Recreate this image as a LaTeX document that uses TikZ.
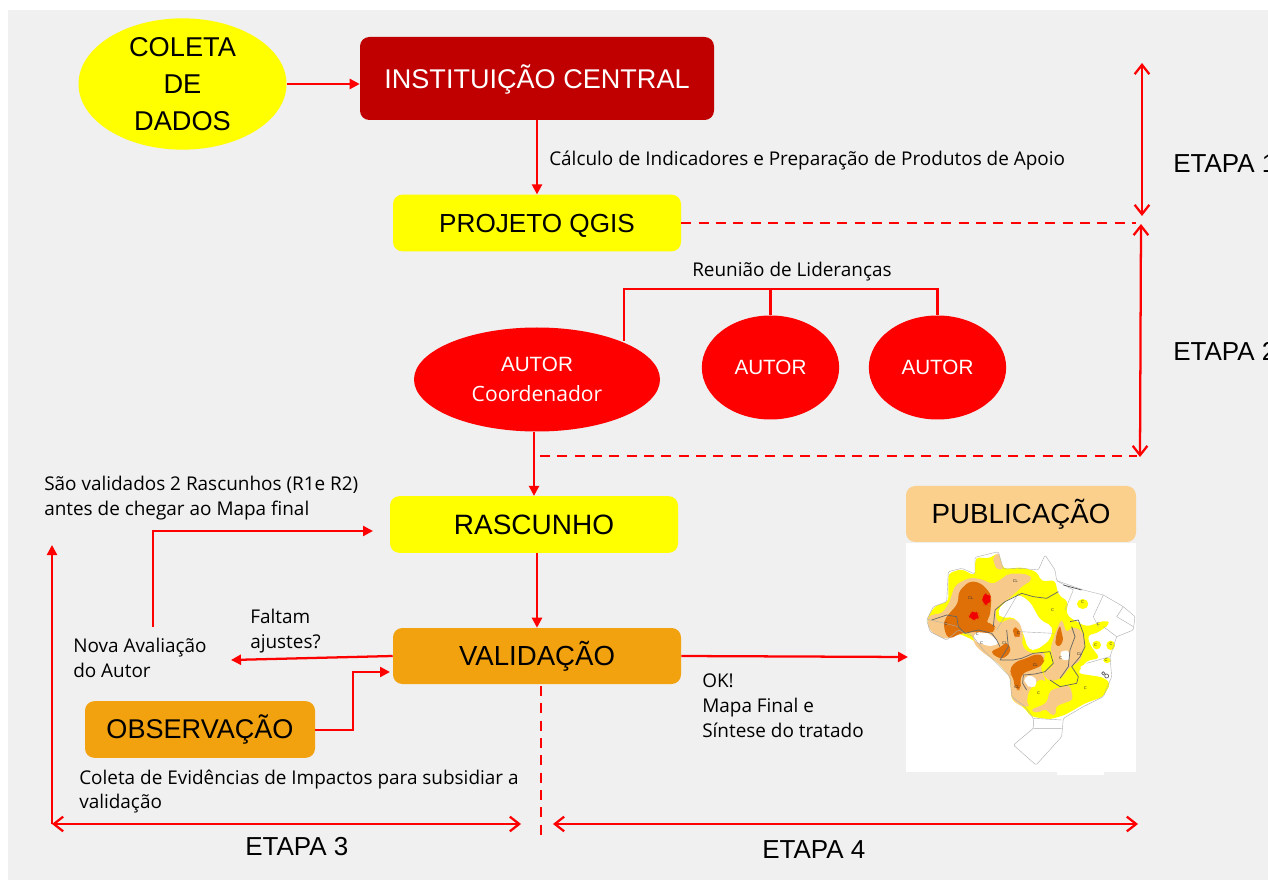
\documentclass[tikz,border=0pt]{standalone}
\usepackage{fontspec}
\setmainfont{Open Sans}
\newfontfamily\capfont{Liberation Sans}
\usetikzlibrary{arrows.meta,shapes.geometric,calc}
\definecolor{bg}{HTML}{F0F0F0}
\definecolor{lnred}{HTML}{FF0000}
\definecolor{darkred}{HTML}{C00000}
\definecolor{amber}{HTML}{F2A20F}
\definecolor{peach}{HTML}{FAD08C}
\definecolor{mtan}{HTML}{F7C98B}
\definecolor{morange}{HTML}{DF7008}
\definecolor{mred}{HTML}{F00000}
\definecolor{yel}{HTML}{FFFF00}
\definecolor{rd}{HTML}{FF0000}
\tikzset{
  boxbase/.style={rounded corners=7pt,inner sep=0pt,anchor=center},
  yellowbox/.style={boxbase,fill=yel,minimum width=216pt,minimum height=42.5pt},
  amberbox/.style={boxbase,fill=amber},
  blob/.style={ellipse,inner sep=0pt,align=center},
  lbl/.style={inner sep=0pt,align=left,anchor=west,font=\fontsize{14.2}{18.7}\selectfont},
  etapa/.style={inner sep=0pt,anchor=west,font=\capfont\fontsize{19.5}{22}\selectfont},
  arr/.style={draw=lnred,line width=1.7pt,-{Triangle[length=7.5pt,width=7.5pt]}},
  dbl/.style={draw=lnred,line width=1.7pt,{Straight Barb[length=7pt,width=11pt]}-{Straight Barb[length=7pt,width=11pt]}},
  plain/.style={draw=lnred,line width=1.7pt},
  dsh/.style={draw=lnred,line width=1.5pt,dash pattern=on 7.5pt off 5.5pt},
  gl/.style={draw=black!32,line width=.3pt},
  kl/.style={draw=black!60,line width=.55pt,line join=round},
  mt/.style={inner sep=0pt,font=\capfont\fontsize{3}{3}\selectfont,text=black!80}
}
\begin{document}
\begin{tikzpicture}[x=0.75pt,y=-0.75pt]
\useasboundingbox (0,0) rectangle (1268,880);
\fill[bg] (8,10) rectangle (1268,880);
% map
\fill[white] (906,543) rectangle (1136,772);
\fill[white] (1057,770) rectangle (1104,775);
\begin{scope}[shift={(890,470)},x=0.25pt,y=-0.25pt]
\fill[yel,rounded corners=3pt] (120,430)--(135,408)--(175,395)--(175,310)--(215,297)--(255,318)--(256,262)--(300,265)--(325,247)--(340,297)--(395,292)--(440,305)--(455,335)--(495,330)--(505,375)--(535,395)--(528,430)--(545,447)--(590,470)--(650,450)--(660,462)--(620,490)--(592,495)--(600,525)--(630,565)--(590,572)--(562,610)--(640,622)--(662,640)--(640,680)--(585,700)--(525,735)--(480,748)--(422,740)--(405,715)--(365,690)--(360,620)--(325,580)--(280,545)--(250,510)--(205,490)--(120,480)--(110,450)--cycle;
\fill[white,rounded corners=4pt] (320,425)--(345,395)--(385,372)--(420,395)--(450,450)--(490,470)--(480,510)--(440,540)--(415,540)--(400,490)--(375,440)--(335,445)--cycle;
\fill[white,rounded corners=3pt] (565,590)--(620,575)--(640,600)--(590,610)--cycle;
\fill[mtan,rounded corners=2pt] (308,265)--(325,247)--(340,300)--(318,296)--cycle;
\fill[mtan,rounded corners=4pt] (110,450)--(125,430)--(150,435)--(175,405)--(195,345)--(240,322)--(285,330)--(305,345)--(345,320)--(355,310)--(415,312)--(430,330)--(400,345)--(375,370)--(345,395)--(320,410)--(315,445)--(335,465)--(350,445)--(385,450)--(400,490)--(395,530)--(420,550)--(470,548)--(450,590)--(470,640)--(425,700)--(405,715)--(365,690)--(360,620)--(325,580)--(275,545)--(250,520)--(250,490)--(205,490)--(170,510)--(120,485)--cycle;
\fill[mtan,rounded corners=3pt] (480,540)--(495,490)--(515,445)--(530,490)--(545,470)--(575,480)--(585,520)--(570,575)--(540,590)--(515,625)--(480,635)--(455,610)--(490,590)--(490,560)--cycle;
\fill[mtan,rounded corners=3pt] (420,720)--(470,700)--(480,660)--(540,645)--(550,690)--(520,700)--(495,710)--(500,735)--(480,735)--(470,715)--(440,730)--cycle;
\fill[yel,rounded corners=3pt] (415,665)--(450,625)--(475,640)--(470,680)--(440,710)--(410,705)--cycle;
\fill[white,rounded corners=3pt] (248,495)--(275,480)--(310,500)--(330,520)--(300,530)--(255,515)--cycle;
\fill[white,rounded corners=4pt] (400,620)--(430,615)--(445,640)--(425,658)--(405,640)--cycle;
\fill[white,rounded corners=2pt] (510,545)--(535,540)--(540,570)--(515,570)--cycle;
\fill[morange,rounded corners=4pt] (165,445)--(205,400)--(205,365)--(240,332)--(275,340)--(305,375)--(300,440)--(285,460)--(310,460)--(320,480)--(300,490)--(255,485)--(210,490)--(175,510)--(160,470)--cycle;
\fill[morange,rounded corners=3pt] (300,545)--(335,530)--(350,515)--(365,540)--(345,565)--(325,565)--cycle;
\fill[morange,rounded corners=3pt] (368,470)--(385,475)--(395,495)--(380,505)--(370,495)--cycle;
\fill[morange,rounded corners=4pt] (375,575)--(410,565)--(440,550)--(465,560)--(460,585)--(425,600)--(395,610)--(390,640)--(395,660)--(375,660)--(370,620)--(355,605)--cycle;
\fill[morange,rounded corners=2pt] (510,465)--(520,510)--(510,530)--(495,525)--(500,490)--cycle;
\fill[mred,rounded corners=4pt] (275,375)--(295,368)--(305,385)--(295,405)--(278,405)--cycle;
\fill[mred,rounded corners=4pt] (235,430)--(255,422)--(270,435)--(262,450)--(240,450)--cycle;
\fill[yel] (578,402) ellipse [x radius=17,y radius=15];
\fill[yel] (620,525) ellipse [x radius=13,y radius=13];
\fill[yel] (662,526) ellipse [x radius=13,y radius=14];
\fill[yel] (651,571) ellipse [x radius=11,y radius=8];
% outline
\draw[gl,rounded corners=1pt] (110,450)--(130,410)--(170,395)--(175,305)--(215,295)--(255,312)--(255,262)--(325,245)--(340,297)--(395,295)--(445,300)--(465,255)--(495,300)--(500,332)--(580,360)--(640,375)--(700,410)--(735,440)--(730,480)--(680,500)--(660,560)--(665,620)--(640,680)--(580,710)--(520,745)--(515,800)--(470,850)--(438,885)--(370,825)--(430,775)--(430,745)--(405,710)--(365,680)--(360,620)--(320,580)--(280,540)--(250,500)--(205,480)--(170,510)--(120,485)--cycle;
\draw[gl] (110,447)--(205,470) (500,332)--(550,360)--(525,420) (385,370)--(320,480) (640,375)--(610,440)--(625,470) (700,410)--(680,440)--(730,470) (680,500)--(640,470) (515,750)--(430,745) (515,775)--(430,775) (390,485)--(490,490) (660,560)--(590,580);
\draw[kl] (125,450)--(170,435)--(200,440)--(205,470)--(225,490)--(265,480)--(305,490)--(320,510)--(330,530);
\draw[kl] (310,470)--(315,420)--(345,395)--(395,370)--(430,380)--(470,385)--(505,365);
\draw[kl] (350,480)--(355,530)--(330,570)--(370,570)--(395,565)--(430,550)--(480,545)--(490,580)--(465,605)--(435,612)--(400,615)--(398,640)--(410,660);
\draw[kl] (540,455)--(565,450)--(580,490)--(585,530)--(570,560)--(545,590)--(565,620)--(560,640)--(510,650)--(480,630);
\draw[kl] (545,470)--(555,500)--(540,540)--(535,590)--(510,625);
\draw[kl] (640,610) circle [radius=5];
\draw[kl] (650,618) circle [radius=6];
\draw[black!70,line width=.5pt] (520,345)--(575,360);
\node[mt] (m1) at (376,332) {CL};
\node[mt] (m2) at (242,385) {CL};
\node[mt] (m3) at (168,462) {C};
\node[mt] (m4) at (488,419) {C};
\node[mt] (m5) at (578,396) {C};
\node[mt] (m6) at (625,463) {C};
\node[mt] (m7) at (385,488) {C};
\node[mt] (m8) at (344,520) {CL};
\node[mt] (m9) at (436,585) {CL};
\node[mt] (m10) at (381,650) {CL};
\node[mt] (m11) at (446,668) {C};
\node[mt] (m12) at (586,655) {C};
\node[mt] (m13) at (568,552) {CL};
\node[mt] (m14) at (512,563) {C};
\node[mt] (m15) at (617,524) {C};
\node[mt] (m16) at (663,522) {C};
\node[mt] (m17) at (648,570) {C};
\node[mt] (m18) at (262,491) {C};
\node[mt] (m19) at (275,519) {C};
\end{scope}
% nodes
\node[blob,fill=yel,minimum width=156pt,minimum height=97.5pt,font=\capfont\fontsize{20.4}{27.6}\selectfont] (coleta) at (182.5,84) {COLETA\\DE\\DADOS};
\node[boxbase,fill=darkred,text=white,minimum width=265.5pt,minimum height=62.25pt,font=\capfont\fontsize{20.3}{24}\selectfont] (inst) at (537,78.5) {\raisebox{0pt}[14.5pt][0pt]{INSTITUIÇÃO CENTRAL}};
\node[yellowbox,font=\capfont\fontsize{19.6}{24}\selectfont] (qgis) at (537,223) {\raisebox{0pt}[14pt][0pt]{PROJETO QGIS}};
\node[blob,fill=rd,text=white,minimum width=184.5pt,minimum height=78pt,font=\capfont\fontsize{15.5}{22}\selectfont] (coord) at (537,379.5) {AUTOR\\{\rmfamily\fontsize{15.8}{22}\selectfont Coordenador}};
\node[blob,fill=rd,text=white,minimum width=103pt,minimum height=78pt,font=\capfont\fontsize{15.5}{20}\selectfont] (a2) at (770.5,367.5) {AUTOR};
\node[blob,fill=rd,text=white,minimum width=103pt,minimum height=78pt,font=\capfont\fontsize{15.5}{20}\selectfont] (a3) at (937.5,367.5) {AUTOR};
\node[yellowbox,font=\capfont\fontsize{21}{24}\selectfont] (rasc) at (534,524.5) {RASCUNHO};
\node[amberbox,minimum width=216pt,minimum height=42pt,font=\capfont\fontsize{20.7}{24}\selectfont] (valid) at (537,656) {VALIDAÇÃO};
\node[amberbox,minimum width=172.5pt,minimum height=42.5pt,font=\capfont\fontsize{20.3}{24}\selectfont] (obs) at (200,729.5) {OBSERVAÇÃO};
\node[boxbase,fill=peach,minimum width=172.5pt,minimum height=42pt,font=\capfont\fontsize{20.8}{24}\selectfont] (pub) at (1021,514) {PUBLICAÇÃO};
% labels
\node[lbl] (t1) at (549,160.5) {Cálculo de Indicadores e Preparação de Produtos de Apoio};
\node[lbl] (t2) at (692,272) {Reunião de Lideranças};
\node[lbl] (t3) at (44,498.5) {São validados 2 Rascunhos (R1e R2)\\antes de chegar ao Mapa final};
\node[lbl] (t4) at (250,631) {Faltam\\ajustes?};
\node[lbl] (t5) at (73,658) {Nova Avaliação\\do Autor};
\node[lbl] (t6) at (702,706) {OK!\\Mapa Final e\\Síntese do tratado};
\node[lbl] (t7) at (79,791.5) {Coleta de Evidências de Impactos para subsidiar a\\validação};
\node[etapa] (e1) at (1173,164) {ETAPA 1};
\node[etapa] (e2) at (1173,351) {ETAPA 2};
\node[etapa] (e3) at (245,847) {ETAPA 3};
\node[etapa] (e4) at (762,850) {ETAPA 4};
% free ends
\coordinate (d1a) at (1142,63);
\coordinate (d1b) at (1142,216);
\coordinate (d2a) at (1141,224);
\coordinate (d2b) at (1140,457);
\coordinate (q1) at (1136,223);
\coordinate (d3s) at (540,456);
\coordinate (d3e) at (1137,456);
\coordinate (r1) at (624,341);
\coordinate (r2) at (624,289);
\coordinate (r3) at (937.5,289);
\coordinate (r4) at (770.5,289);
\coordinate (n1) at (153,627);
\coordinate (n2) at (153,531);
\coordinate (n3) at (373,531);
\coordinate (v1) at (231,660);
\coordinate (o1) at (353,730);
\coordinate (o2) at (353,672);
\coordinate (o3) at (390,672);
\coordinate (u1) at (52,545);
\coordinate (u2) at (52,824);
\coordinate (u3) at (521,824);
\coordinate (w1) at (541,686);
\coordinate (w2) at (541,838);
\coordinate (x1) at (553,824);
\coordinate (x2) at (1138,824);
\coordinate (p1) at (908,657);
% connectors
\draw[arr] (coleta.east) -- (coleta.east -| inst.west);
\draw[arr] (inst.south) -- (qgis.north);
\draw[dsh] (qgis.east) -- (q1);
\draw[dbl] (d1a) -- (d1b);
\draw[dbl] (d2a) -- (d2b);
\draw[dsh] (d3s) -- (d3e);
\draw[plain] (r1) -- (r2) -- (r3) -- (a3.north);
\draw[plain] (r4) -- (a2.north);
\draw[arr] (coord.south -| rasc.north) -- (rasc.north);
\draw[arr] (rasc.south -| valid.north) -- (valid.north);
\draw[arr] (valid.west) -- (v1);
\draw[arr] (n1) -- (n2) -- (n3);
\draw[arr] (obs.east |- o1) -- (o1) -- (o2) -- (o3);
\draw[arr] (valid.east) -- (p1);
\draw[arr] (u2) -- (u1);
\draw[dbl] (u2) -- (u3);
\draw[dsh] (w1) -- (w2);
\draw[dbl] (x1) -- (x2);
\end{tikzpicture}
\end{document}
